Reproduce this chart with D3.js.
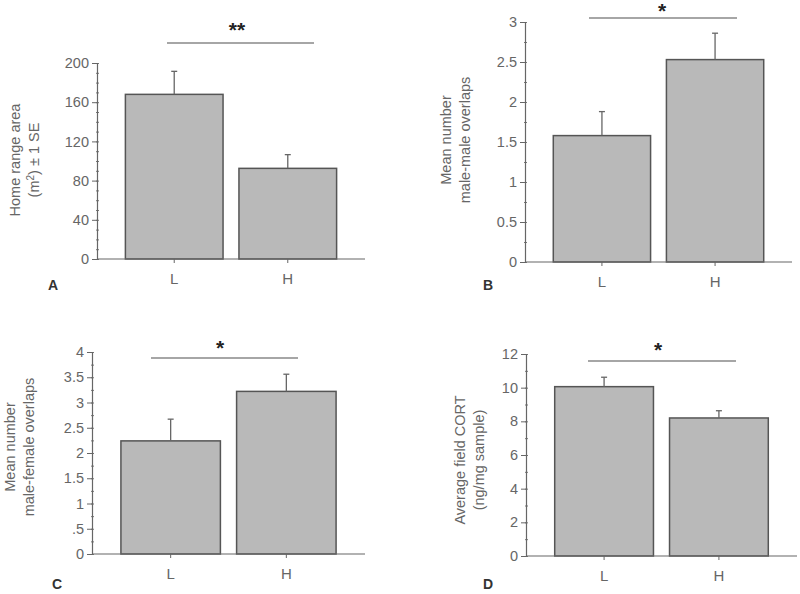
<!DOCTYPE html>
<html>
<head>
<meta charset="utf-8">
<script src="https://cdn.jsdelivr.net/npm/d3@7"></script>
<style>
  body { margin: 0; background: #fff; }
  svg { display: block; font-family: "Liberation Sans", Arial, sans-serif; }
</style>
</head>
<body>
<div id="chart"></div>
<script>
// Data
const groups = ['L', 'H']

const homeRange = [168, 92.5]
const homeRangeSE = [23.5, 14]

const maleMale = [1.58, 2.53]
const maleMaleSE = [0.30, 0.33]

const maleFemale = [2.24, 3.22]
const maleFemaleSE = [0.43, 0.34]

const cort = [10.06, 8.2]
const cortSE = [0.56, 0.43]

const ticksA = [0, 40, 80, 120, 160, 200]
const ticksB = [0, 0.5, 1, 1.5, 2, 2.5, 3]
const ticksC = [0, 0.5, 1, 1.5, 2, 2.5, 3, 3.5, 4]
const ticksD = [0, 2, 4, 6, 8, 10, 12]

const svg = d3.select('#chart')
  .append('svg')
  .attr('width', 800)
  .attr('height', 594)

function panel(opts) {
  const g = svg.append('g')

  const yScale = d3.scaleLinear()
    .domain([0, opts.max])
    .range([opts.bottom, opts.top])

  const xScale = d3.scaleBand()
    .domain(groups)
    .range([opts.left, opts.right])
    .paddingInner(0.14)
    .paddingOuter(0.25)

  // minor ticks
  g.append('g')
    .attr('transform', `translate(${opts.left},0)`)
    .call(d3.axisLeft(yScale).tickValues(d3.range(0, opts.max + 1e-9, opts.minor)).tickSize(3).tickFormat(''))
    .call(a => a.select('.domain').remove())
    .call(a => a.selectAll('line').attr('stroke', '#777').attr('transform', 'translate(2,0)'))

  // y axis
  g.append('g')
    .attr('transform', `translate(${opts.left},0)`)
    .call(d3.axisLeft(yScale).tickValues(opts.ticks).tickSizeOuter(0).tickSize(5).tickPadding(3).tickFormat(opts.format))
    .call(a => a.select('.domain').attr('stroke', '#666').attr('stroke-width', 1.2))
    .call(a => a.selectAll('line').attr('stroke', '#666'))
    .call(a => a.selectAll('text').attr('fill', '#666').attr('font-size', 14.5).attr('font-family', 'Liberation Sans, Arial, sans-serif'))

  // bars
  g.selectAll('rect.bar')
    .data(opts.values)
    .join('rect')
    .attr('class', 'bar')
    .attr('x', (d, i) => xScale(groups[i]))
    .attr('y', d => yScale(d))
    .attr('width', xScale.bandwidth())
    .attr('height', d => yScale(0) - yScale(d))
    .attr('fill', '#b9b9b9')
    .attr('stroke', '#555')
    .attr('stroke-width', 1.5)

  // error bars
  const cx = i => xScale(groups[i]) + xScale.bandwidth() / 2
  const err = g.selectAll('g.err')
    .data(opts.values)
    .join('g')
    .attr('class', 'err')
  err.append('line')
    .attr('x1', (d, i) => cx(i)).attr('x2', (d, i) => cx(i))
    .attr('y1', d => yScale(d))
    .attr('y2', (d, i) => yScale(d + opts.se[i]))
    .attr('stroke', '#666').attr('stroke-width', 1.3)
  err.append('line')
    .attr('x1', (d, i) => cx(i) - 3).attr('x2', (d, i) => cx(i) + 3)
    .attr('y1', (d, i) => yScale(d + opts.se[i]))
    .attr('y2', (d, i) => yScale(d + opts.se[i]))
    .attr('stroke', '#666').attr('stroke-width', 1.3)

  // x axis
  g.append('line')
    .attr('x1', opts.left).attr('x2', opts.axisEnd)
    .attr('y1', yScale(0)).attr('y2', yScale(0))
    .attr('stroke', '#666').attr('stroke-width', 1.2)
  groups.forEach((k, i) => {
    g.append('line')
      .attr('x1', cx(i)).attr('x2', cx(i))
      .attr('y1', yScale(0)).attr('y2', yScale(0) + 4)
      .attr('stroke', '#666')
    g.append('text')
      .attr('x', cx(i)).attr('y', yScale(0) + 25)
      .attr('text-anchor', 'middle')
      .attr('fill', '#666').attr('font-size', 15)
      .text(k)
  })

  // significance
  g.append('line')
    .attr('x1', opts.sig[0]).attr('x2', opts.sig[1])
    .attr('y1', opts.sigY).attr('y2', opts.sigY)
    .attr('stroke', '#888').attr('stroke-width', 1.3)
  g.append('text')
    .attr('x', opts.starX).attr('y', opts.starY + 10)
    .attr('text-anchor', 'middle')
    .attr('font-size', 21).attr('font-weight', 'bold').attr('fill', '#222')
    .text(opts.stars)

  // y label
  const lbl = g.append('text')
    .attr('transform', `translate(${opts.labelX},${opts.labelY}) rotate(-90)`)
    .attr('text-anchor', 'middle')
    .attr('fill', '#666').attr('font-size', 14.5)
  opts.label.forEach((t, i) => {
    lbl.append('tspan').attr('x', 0).attr('dy', i === 0 ? 0 : 19).html(t)
  })

  // panel letter
  g.append('text')
    .attr('x', opts.letterX).attr('y', opts.letterY)
    .attr('font-size', 14).attr('font-weight', 'bold').attr('fill', '#333')
    .text(opts.letter)
}

panel({
  values: homeRange, se: homeRangeSE, max: 200, ticks: ticksA, minor: 10,
  format: d3.format('d'),
  left: 97, right: 365, axisEnd: 365, top: 63, bottom: 259,
  sig: [167, 314], sigY: 43, stars: '**', starX: 237, starY: 27,
  label: ['Home range area', '(m<tspan font-size="10" dy="-5">2</tspan><tspan dy="5">) ± 1 SE</tspan>'],
  labelX: 20, labelY: 160, letter: 'A', letterX: 48, letterY: 290
})

panel({
  values: maleMale, se: maleMaleSE, max: 3, ticks: ticksB, minor: 0.25,
  format: d => d,
  left: 525, right: 792, axisEnd: 792, top: 22, bottom: 262,
  sig: [589, 737], sigY: 18, stars: '*', starX: 662, starY: 8,
  label: ['Mean number', 'male-male overlaps'],
  labelX: 451, labelY: 140, letter: 'B', letterX: 483, letterY: 290
})

panel({
  values: maleFemale, se: maleFemaleSE, max: 4, ticks: ticksC, minor: 0.25,
  format: d => d === 0.5 ? '.5' : d,
  left: 92, right: 365, axisEnd: 365, top: 352, bottom: 554,
  sig: [151, 298], sigY: 358, stars: '*', starX: 220, starY: 345,
  label: ['Mean number', 'male-female overlaps'],
  labelX: 15, labelY: 447, letter: 'C', letterX: 52, letterY: 589
})

panel({
  values: cort, se: cortSE, max: 12, ticks: ticksD, minor: 1,
  format: d3.format('d'),
  left: 526, right: 797, axisEnd: 797, top: 354, bottom: 556,
  sig: [588, 736], sigY: 361, stars: '*', starX: 658, starY: 347,
  label: ['Average field CORT', '(ng/mg sample)'],
  labelX: 465, labelY: 460, letter: 'D', letterX: 483, letterY: 589
})
</script>
</body>
</html>
